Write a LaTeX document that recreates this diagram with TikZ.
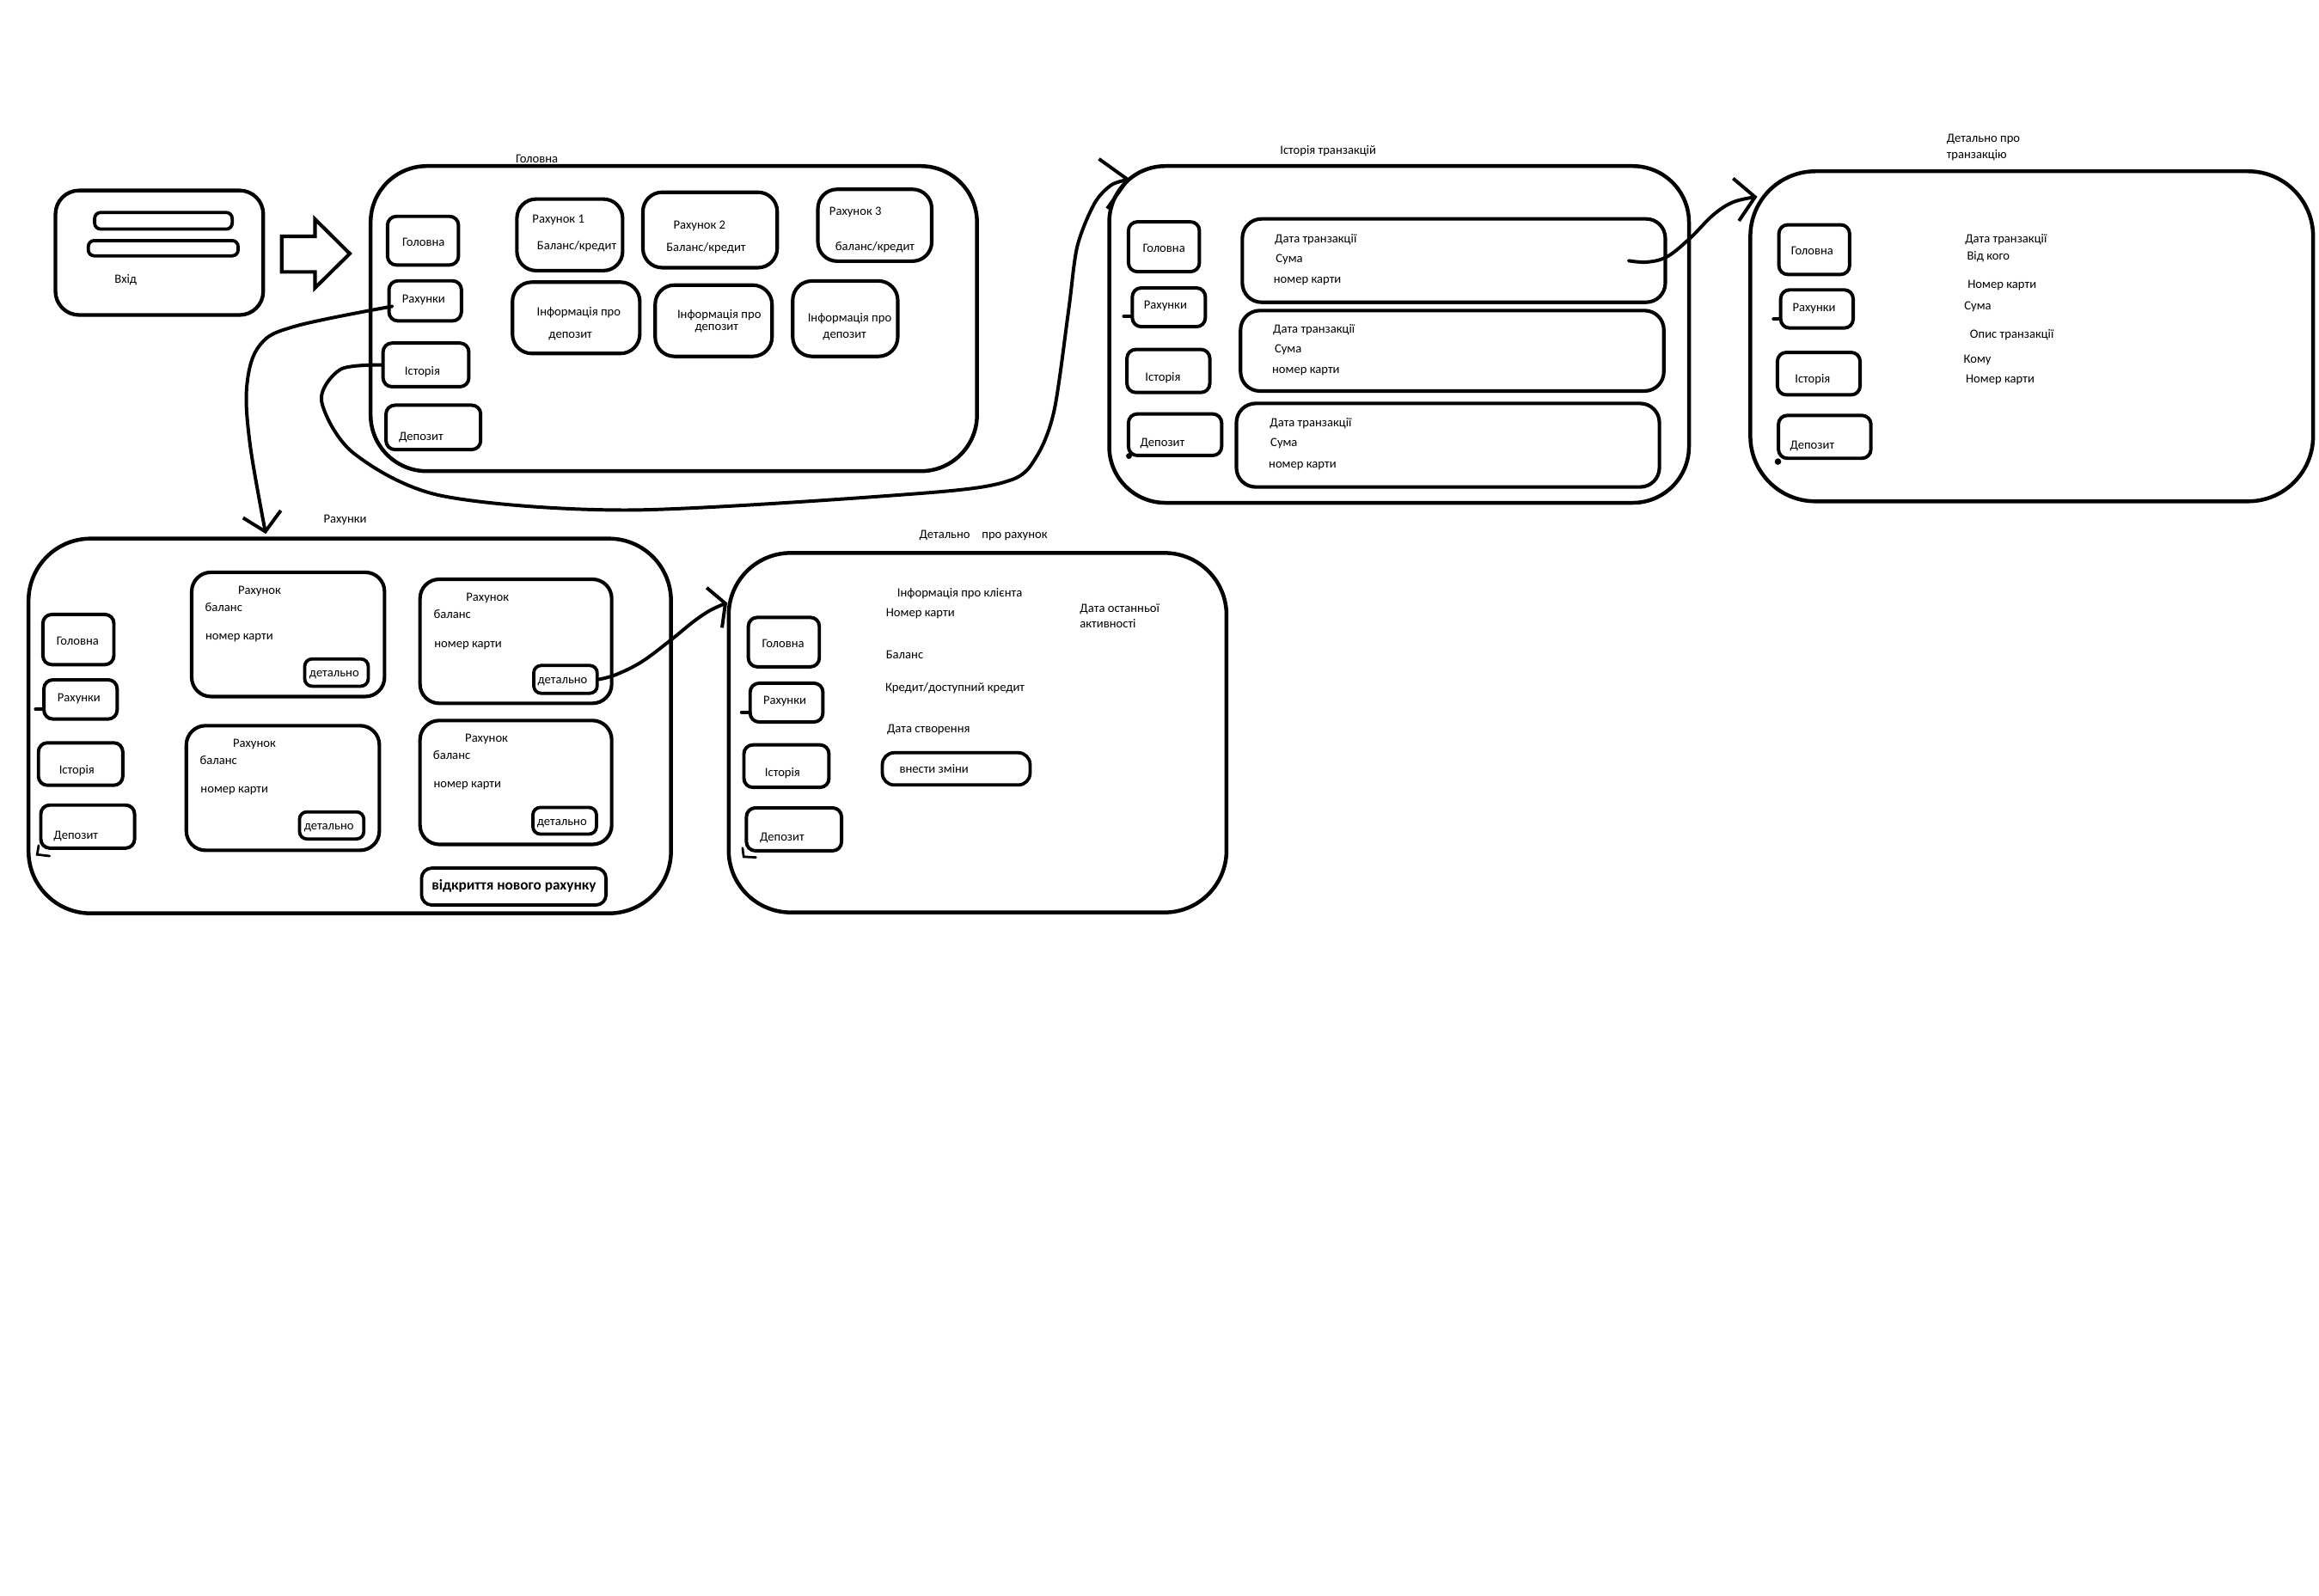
\documentclass[tikz,border=0pt]{standalone}
\usepackage{fontspec}
\setmainfont{Carlito}
\usetikzlibrary{arrows.meta,calc,fit}
\newcommand\txtsz{\fontsize{8.5pt}{10pt}\selectfont}
\newcommand\bigtxtsz{\fontsize{10pt}{12pt}\selectfont\bfseries}
\begin{document}
\begin{tikzpicture}[x=1pt,y=-1pt,
 screen/.style={draw, line width=2.6pt, rounded corners=38pt, inner sep=0pt},
 loginbox/.style={draw, line width=2.5pt, rounded corners=16pt, inner sep=0pt},
 navbtn/.style={draw, line width=2.3pt, rounded corners=6pt, inner sep=0pt},
 card/.style={draw, line width=2.4pt, rounded corners=13pt, inner sep=0pt},
 rowbox/.style={draw, line width=2.4pt, rounded corners=13pt, inner sep=0pt},
 smallbtn/.style={draw, line width=2.2pt, rounded corners=5pt, inner sep=0pt},
 field/.style={draw, line width=2.2pt, rounded corners=4pt, inner sep=0pt},
 txt/.style={inner sep=0pt, font=\txtsz, anchor=mid},
 ltxt/.style={inner sep=0pt, font=\txtsz, anchor=mid west},
 conn/.style={line width=2.3pt, line cap=round},
 tick/.style={line width=2.3pt, line cap=round},
]
\fill[white] (0,0) rectangle (1568,1078.66);
\useasboundingbox (0,0) rectangle (1568,1078.66);

% ---------- Login ----------
\node[loginbox, fit={(37.5,128.8) (178,213)}] (login) {};
\node[field, fit={(64,143.7) (157,154.9)}] (f1) {};
\node[field, fit={(59.7,162.7) (161,173)}] (f2) {};
\node[txt] (vhid) at (85,188.9) {Вхід};

% block arrow
\draw[line width=2.4pt] (190.5,159.8) -- (213,159.8) -- (213,148.2) -- (236.5,171.5)
   -- (213,194.7) -- (213,183.9) -- (190.5,183.9) -- cycle;

% ---------- Головна ----------
\node[txt] (homeT) at (363,107.5) {Головна};
\node[screen, fit={(250.6,112.3) (660.6,318.6)}] (home) {};
\node[navbtn, fit={(262,146.3) (310,179.2)}] (hG) {};
\node[txt] at (286.4,164.2) {Головна};
\node[navbtn, fit={(263,189.9) (312,217)}] (hR) {};
\node[txt] at (286.4,202.6) {Рахунки};
\node[navbtn, fit={(259,232) (317,261.5)}] (hI) {};
\node[txt] at (285.6,251.5) {Історія};
\node[navbtn, fit={(261,274) (325,304)}] (hD) {};
\node[txt] at (284.7,295.6) {Депозит};

\node[card, fit={(349.5,134.6) (421,183)}] (a1) {};
\node[txt] at (377.6,148.2) {Рахунок 1};
\node[txt] at (390,166.6) {Баланс/кредит};
\node[card, fit={(434.7,130) (525.5,181)}] (a2) {};
\node[txt] at (473,152.6) {Рахунок 2};
\node[txt] at (477.4,167.5) {Баланс/кредит};
\node[card, fit={(553,128) (630,176.6)}] (a3) {};
\node[txt] at (578.4,143) {Рахунок 3};
\node[txt] at (591.6,167) {баланс/кредит};

\node[card, fit={(346.5,190.8) (432.6,239)}] (d1) {};
\node[txt] at (391.3,211.2) {Інформація про};
\node[txt] at (385.7,226.3) {депозит};
\node[card, fit={(443,192.8) (522,241)}] (d2) {};
\node[txt] at (486.3,212.8) {Інформація про};
\node[txt] at (484.6,221.2) {депозит};
\node[card, fit={(536,190) (607,241)}] (d3) {};
\node[txt] at (574.5,215) {Інформація про};
\node[txt] at (571.1,226.3) {депозит};

% ---------- Історія транзакцій ----------
\node[txt] (histT) at (898,101.7) {Історія транзакцій};
\node[screen, fit={(750,112.3) (1142,340)}] (hist) {};
\node[navbtn, fit={(763,150) (811,183.7)}] (tG) {};
\node[txt] at (787,168.3) {Головна};
\node[navbtn, fit={(765.6,194.7) (815,220.9)}] (tR) {};
\node[txt] at (788,206.3) {Рахунки};
\node[navbtn, fit={(762,236.3) (818,265.4)}] (tI) {};
\node[txt] at (786.3,255.3) {Історія};
\node[navbtn, fit={(763,279.9) (826,308)}] (tD) {};
\node[txt] at (786,299.7) {Депозит};
\draw[tick] ($(tR.south west)+(1,-8.2)$) -- ++(-5.6,0);
\fill ($(tD.south west)+(1.5,-0.8)$) circle (2pt);

\node[rowbox, fit={(840,148) (1126,204.4)}] (r1) {};
\node[ltxt] at (861.8,161.7) {Дата транзакції};
\node[ltxt] at (862.5,175.3) {Сума};
\node[ltxt] at (861,189.3) {номер карти};
\node[rowbox, fit={(838.8,210) (1125,264.4)}] (r2) {};
\node[ltxt] at (860.6,222.8) {Дата транзакції};
\node[ltxt] at (861.7,236.3) {Сума};
\node[ltxt] at (860,250.3) {номер карти};
\node[rowbox, fit={(836,272.8) (1122,329.3)}] (r3) {};
\node[ltxt] at (858.4,286.2) {Дата транзакції};
\node[ltxt] at (858.9,299.7) {Сума};
\node[ltxt] at (857.7,313.8) {номер карти};

% ---------- Детально про транзакцію ----------
\node[ltxt] (dTT1) at (1316,94) {Детально про};
\node[ltxt] (dTT2) at (1316,104.7) {транзакцію};
\node[screen, rounded corners=44pt, fit={(1183.5,115.8) (1564,339)}] (dT) {};
\node[navbtn, fit={(1202.8,152) (1250.6,185.6)}] (xG) {};
\node[txt] at (1225.3,169.9) {Головна};
\node[navbtn, fit={(1204,196) (1253,221.8)}] (xR) {};
\node[txt] at (1226.6,208.3) {Рахунки};
\node[navbtn, fit={(1201.8,238.3) (1257.7,267)}] (xI) {};
\node[txt] at (1225.6,256.7) {Історія};
\node[navbtn, fit={(1202.5,280.9) (1265,309.9)}] (xD) {};
\node[txt] at (1225.3,301.3) {Депозит};
\draw[tick] ($(xR.south west)+(1,-7.2)$) -- ++(-4.7,0);
\fill ($(xD.south west)+(0.8,1.1)$) circle (2.2pt);
\node[ltxt] at (1328.5,161.7) {Дата транзакції};
\node[ltxt] at (1329.8,173.4) {Від кого};
\node[ltxt] at (1330.3,192.7) {Номер карти};
\node[ltxt] at (1328,207.3) {Сума};
\node[ltxt] at (1331.8,226.3) {Опис транзакції};
\node[ltxt] at (1327.6,243.1) {Кому};
\node[ltxt] at (1329,256.7) {Номер карти};

% ---------- Рахунки ----------
\node[txt] (accT) at (233.4,351.2) {Рахунки};
\node[screen, rounded corners=42pt, fit={(19.3,364.2) (453.7,617.6)}] (accS) {};
\node[navbtn, fit={(29,415.5) (77,449.4)}] (aG) {};
\node[txt] at (52.5,433.5) {Головна};
\node[navbtn, fit={(29.7,459.7) (79.2,486.2)}] (aR) {};
\node[txt] at (53.4,472) {Рахунки};
\node[navbtn, fit={(26,502.3) (83,531)}] (aI) {};
\node[txt] at (51.9,520.7) {Історія};
\node[navbtn, fit={(27.6,544.4) (91,573.5)}] (aD) {};
\node[txt] at (51.3,565) {Депозит};
\draw[tick] ($(aR.south west)+(1,-7.7)$) -- ++(-5.5,0);
\draw[line width=1.6pt, line cap=round] ($(aD.south west)+(-0.3,-3)$) -- ++(-1,6.2) -- ++(8.4,1);

\node[card, fit={(129.6,387) (260,471)}] (c1) {};
\node[txt] at (175.5,399.6) {Рахунок};
\node[ltxt] at (138.5,411) {баланс};
\node[ltxt] at (138.8,430.4) {номер карти};
\node[smallbtn, fit={(206,445.6) (249,464)}] (b1) {};
\node[txt] at (226,455.4) {детально};

\node[card, fit={(284,391.7) (413.6,475.6)}] (c2) {};
\node[txt] at (329.7,404.3) {Рахунок};
\node[ltxt] at (293,415.7) {баланс};
\node[ltxt] at (293.5,435.3) {номер карти};
\node[smallbtn, fit={(360.9,450) (403.8,468.8)}] (b2) {};
\node[txt] at (380.4,460.1) {детально};

\node[card, fit={(126,490.7) (256.5,575)}] (c3) {};
\node[txt] at (172,503) {Рахунок};
\node[ltxt] at (135,514.3) {баланс};
\node[ltxt] at (135.5,533.7) {номер карти};
\node[smallbtn, fit={(202.5,549) (246,567.3)}] (b3) {};
\node[txt] at (222.4,558.8) {детально};

\node[card, fit={(284,487.2) (413.6,571)}] (c4) {};
\node[txt] at (329,499.4) {Рахунок};
\node[ltxt] at (292.7,510.8) {баланс};
\node[ltxt] at (293,530.4) {номер карти};
\node[smallbtn, fit={(360.3,546) (403.3,564)}] (b4) {};
\node[txt] at (380,555.6) {детально};

\node[smallbtn, rounded corners=7pt, fit={(285,587) (409.8,612)}] (newA) {};
\node[txt, font=\bigtxtsz] at (347.5,599.6) {відкриття нового рахунку};

% ---------- Детально про рахунок ----------
\node[ltxt] (dAT) at (621.4,361.9) {Детально\hspace{8pt}про рахунок};
\node[screen, rounded corners=42pt, fit={(492.7,373.9) (829.3,617)}] (dA) {};
\node[navbtn, fit={(506,417.5) (554,450.9)}] (eG) {};
\node[txt] at (529.5,435.4) {Головна};
\node[navbtn, fit={(507.2,462) (556.4,488.2)}] (eR) {};
\node[txt] at (530.6,473.9) {Рахунки};
\node[navbtn, fit={(503,503.7) (560.5,532.4)}] (eI) {};
\node[txt] at (529.1,522.6) {Історія};
\node[navbtn, fit={(504.7,546.3) (569,575.3)}] (eD) {};
\node[txt] at (528.8,566.1) {Депозит};
\draw[tick] ($(eR.south west)+(1,-7.8)$) -- ++(-5.6,0);
\draw[line width=1.6pt, line cap=round] ($(eD.south west)+(-1.5,-3)$) -- ++(0.8,5.9) -- ++(8.2,0.4);

\node[ltxt] at (606.5,401) {Інформація про клієнта};
\node[ltxt] at (598.9,414.6) {Номер карти};
\node[ltxt] at (730,411.7) {Дата останньої};
\node[ltxt] at (730,422.4) {активності};
\node[ltxt] at (598.9,443) {Баланс};
\node[ltxt] at (598.4,465.3) {Кредит/доступний кредит};
\node[ltxt] at (599.6,493) {Дата створення};
\node[smallbtn, rounded corners=8pt, fit={(596.6,509) (696.5,530.8)}] (chg) {};
\node[ltxt] at (608,520.1) {внести зміни};

% ---------- Connectors ----------
\coordinate (pAs) at ($(hR.west)+(3.4,3.7)$);
\coordinate (pAe) at ($(accS.north west)+(161.7,-1.9)$);
\draw[conn, -{Straight Barb[length=12pt,width=26pt]}] plot[smooth, tension=0.6]
  coordinates {(pAs) (200,220.5) (176,233) (167,260) (169,300) (pAe)};

\coordinate (pBs) at (hI.west);
\coordinate (pBe) at ($(hist.north west)+(15.5,10.2)$);
\draw[conn, -{Straight Barb[length=17pt,width=34pt]}] plot[smooth, tension=0.5]
  coordinates {(pBs) (230.2,249.8) (217.4,271) (238.7,306.1) (298.4,335.2) (426.2,344.9)
   (627.6,333.2) (683.8,324.5) (701.3,308) (712.9,277) (722.6,209.2) (728.4,166.6)
   (740,137.6) (751.6,125) (pBe)};

\coordinate (pCs) at ($(r1.east)+(-26,0.1)$);
\coordinate (pCe) at ($(dT.north west)+(6,18.5)$);
\draw[conn, -{Straight Barb[length=13pt,width=29pt]}] plot[smooth, tension=0.6]
  coordinates {(pCs) (1113.9,177.2) (1127.5,173.4) (1143,160.8) (1158.4,145.3) (1172,136.6) (pCe)};

\coordinate (pDs) at (b2.east);
\coordinate (pDe) at ($(dA.north west)+(0.3,35)$);
\draw[conn, -{Straight Barb[length=8pt,width=29pt]}] plot[smooth, tension=0.6]
  coordinates {(pDs) (416.5,456.2) (433.9,447.5) (453.3,433) (468.8,420.4) (480.4,412.6) (pDe)};
\end{tikzpicture}
\end{document}
